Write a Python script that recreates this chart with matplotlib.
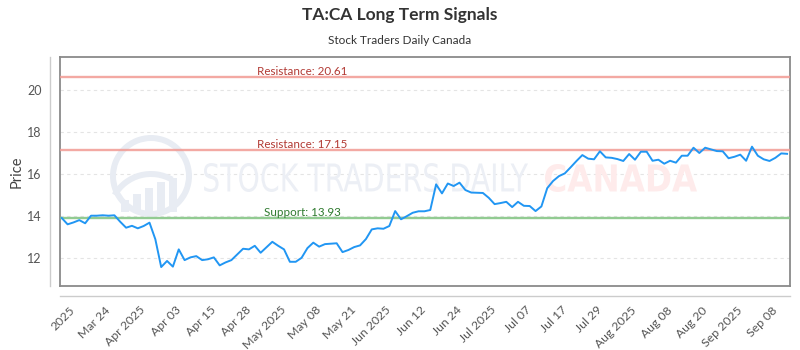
import matplotlib
matplotlib.use("Agg")
import matplotlib.pyplot as plt
import numpy as np
from matplotlib.textpath import TextPath
from matplotlib.patches import PathPatch, Wedge, Rectangle
from matplotlib.font_manager import FontProperties
from matplotlib.transforms import Affine2D, IdentityTransform, ScaledTranslation, blended_transform_factory
import matplotlib.lines as mlines

# ---------------- data ----------------
title = "TA:CA Long Term Signals"
subtitle = "Stock Traders Daily Canada"
y_label = "Price"

prices = [
    13.92, 13.62, 13.71, 13.82, 13.67, 14.03, 14.03, 14.05, 14.03, 14.05,
    13.74, 13.46, 13.55, 13.43, 13.54, 13.70, 12.91, 11.59, 11.88, 11.61,
    12.43, 11.92, 12.05, 12.11, 11.92, 11.96, 12.05, 11.67, 11.81, 11.92,
    12.19, 12.46, 12.43, 12.60, 12.27, 12.53, 12.79, 12.60, 12.43, 11.84,
    11.84, 12.03, 12.49, 12.75, 12.56, 12.68, 12.70, 12.72, 12.30, 12.40,
    12.54, 12.62, 12.92, 13.38, 13.43, 13.41, 13.54, 14.25, 13.86, 14.01,
    14.17, 14.24, 14.24, 14.30, 15.52, 15.09, 15.56, 15.44, 15.60, 15.25,
    15.13, 15.12, 15.11, 14.88, 14.58, 14.63, 14.69, 14.44, 14.69, 14.50,
    14.49, 14.25, 14.47, 15.34, 15.68, 15.91, 16.04, 16.33, 16.63, 16.91,
    16.74, 16.71, 17.09, 16.80, 16.78, 16.72, 16.63, 16.96, 16.69, 17.07,
    17.07, 16.64, 16.69, 16.50, 16.64, 16.55, 16.88, 16.88, 17.26, 17.01,
    17.26, 17.18, 17.10, 17.09, 16.76, 16.83, 16.93, 16.64, 17.31, 16.88,
    16.71, 16.63, 16.78, 16.99, 16.97,
]

tick_labels = [
    "2025", "Mar 24", "Apr 2025", "Apr 03", "Apr 15", "Apr 28", "May 2025",
    "May 08", "May 21", "Jun 2025", "Jun 12", "Jun 24", "Jul 2025", "Jul 07",
    "Jul 17", "Jul 29", "Aug 2025", "Aug 08", "Aug 20", "Sep 2025", "Sep 08",
]
tick_step = 6
tick_start = 2

y_ticks = [12, 14, 16, 18, 20]
resistance_levels = [20.61, 17.15]
support_levels = [13.93]

# ---------------- figure ----------------
W, H = 800, 350
FONT = ["Lato", "DejaVu Sans"]
plt.rcParams["font.family"] = FONT

fig = plt.figure(figsize=(W / 100, H / 100), dpi=100)
fig.patch.set_facecolor("white")

ax_left, ax_right, ax_top, ax_bottom = 60, 790, 57, 286
ax = fig.add_axes([ax_left / W, (H - ax_bottom) / H,
                   (ax_right - ax_left) / W, (ax_bottom - ax_top) / H])
ax.set_facecolor("white")

x = np.arange(len(prices))
ax.plot(x, prices, color="#2196F3", lw=1.4, zorder=5)

ax.set_xlim(-0.3, len(prices) - 0.5)
ax.set_ylim(10.69, 21.57)

# grid
ax.set_yticks(y_ticks)
ax.set_yticklabels([str(v) for v in y_ticks])
ax.yaxis.grid(True, color="#E4E4E4", lw=0.8, ls=(0, (3, 3)))
ax.xaxis.grid(False)
ax.set_axisbelow(True)

# level lines
bt = blended_transform_factory(ax.transAxes, ax.transData)
for lv in resistance_levels:
    ax.axhline(lv, color="#F19A93", alpha=0.85, lw=1.7, zorder=4)
    ax.text(0.3315, lv, f"Resistance: {lv:.2f}", transform=bt, ha="center",
            va="bottom", fontsize=8.4, color="#B23A34", zorder=6)
for lv in support_levels:
    ax.axhline(lv, color="#86C686", alpha=0.9, lw=1.7, zorder=4)
    ax.text(0.3315, lv, f"Support: {lv:.2f}", transform=bt, ha="center",
            va="bottom", fontsize=8.4, color="#2E7A2E", zorder=6)

# x ticks
tick_pos = tick_start + tick_step * np.arange(len(tick_labels))
ax.set_xticks(tick_pos)
ax.set_xticklabels(tick_labels, rotation=45, ha="right", va="center",
                   rotation_mode="anchor", fontsize=8.8, color="#555555")
offset = ScaledTranslation(4 / 100, 0, fig.dpi_scale_trans)
for lab in ax.get_xticklabels():
    lab.set_transform(lab.get_transform() + offset)
ax.tick_params(axis="x", length=0, pad=16)
ax.tick_params(axis="y", length=0, pad=13, labelsize=9, labelcolor="#555555")

for s in ax.spines.values():
    s.set_color("#8A8A8A")
    s.set_linewidth(1.3)

ax.set_ylabel(y_label, fontsize=10.5, color="#444444")
ax.yaxis.set_label_coords(-(ax_left - 24) / (ax_right - ax_left), 0.5)

# offset axis lines (outside plot border)
fig.add_artist(mlines.Line2D([50 / W, 50 / W], [(H - ax_bottom) / H, (H - ax_top) / H],
                             color="#CCCCCC", lw=1.0, transform=fig.transFigure))
fig.add_artist(mlines.Line2D([ax_left / W, ax_right / W], [(H - 296) / H, (H - 296) / H],
                             color="#CCCCCC", lw=1.0, transform=fig.transFigure))

# ---------------- watermark ----------------
def stretched_text(s, x0, x1, ytop, ybot, color, weight):
    tp = TextPath((0, 0), s, size=100,
                  prop=FontProperties(family="DejaVu Sans", weight=weight))
    ext = tp.get_extents()
    tr = (Affine2D().translate(-ext.x0, -ext.y0)
          .scale((x1 - x0) / ext.width, (ybot - ytop) / ext.height)
          .translate(x0, H - ybot))
    p = PathPatch(tr.transform_path(tp), fc=color, ec="none",
                  transform=IdentityTransform(), zorder=1)
    ax.add_artist(p)

stretched_text("STOCK TRADERS DAILY", 204, 528, 163, 192, "#ECEFF5", "normal")
stretched_text("CANADA", 545, 697, 164, 192, "#FEEBEB", "bold")

# logo
cx, cy = 151, H - 176
logo_c = "#E8ECF3"
ax.add_artist(Wedge((cx, cy), 41, 0, 360, width=6, fc=logo_c, ec="none",
                    transform=IdentityTransform(), zorder=1))
bar_h = [12, 18, 24, 30, 34]
for i, hgt in enumerate(bar_h):
    ax.add_artist(Rectangle((cx - 30 + i * 12, H - 212), 8, hgt, fc=logo_c,
                            ec="none", transform=IdentityTransform(), zorder=1))
ax.add_artist(Wedge((cx, cy - 40), 45, 60, 150, width=6, fc=logo_c, ec="none",
                    transform=IdentityTransform(), zorder=1))

# ---------------- titles ----------------
fig.text(0.5, 1 - 15 / H, title, ha="center", va="center", fontsize=12.5,
         fontweight="bold", color="#333333")
fig.text(0.5, 1 - 40 / H, subtitle, ha="center", va="center", fontsize=8.5,
         color="#333333")

fig.savefig("out.png", dpi=100, facecolor="white")
